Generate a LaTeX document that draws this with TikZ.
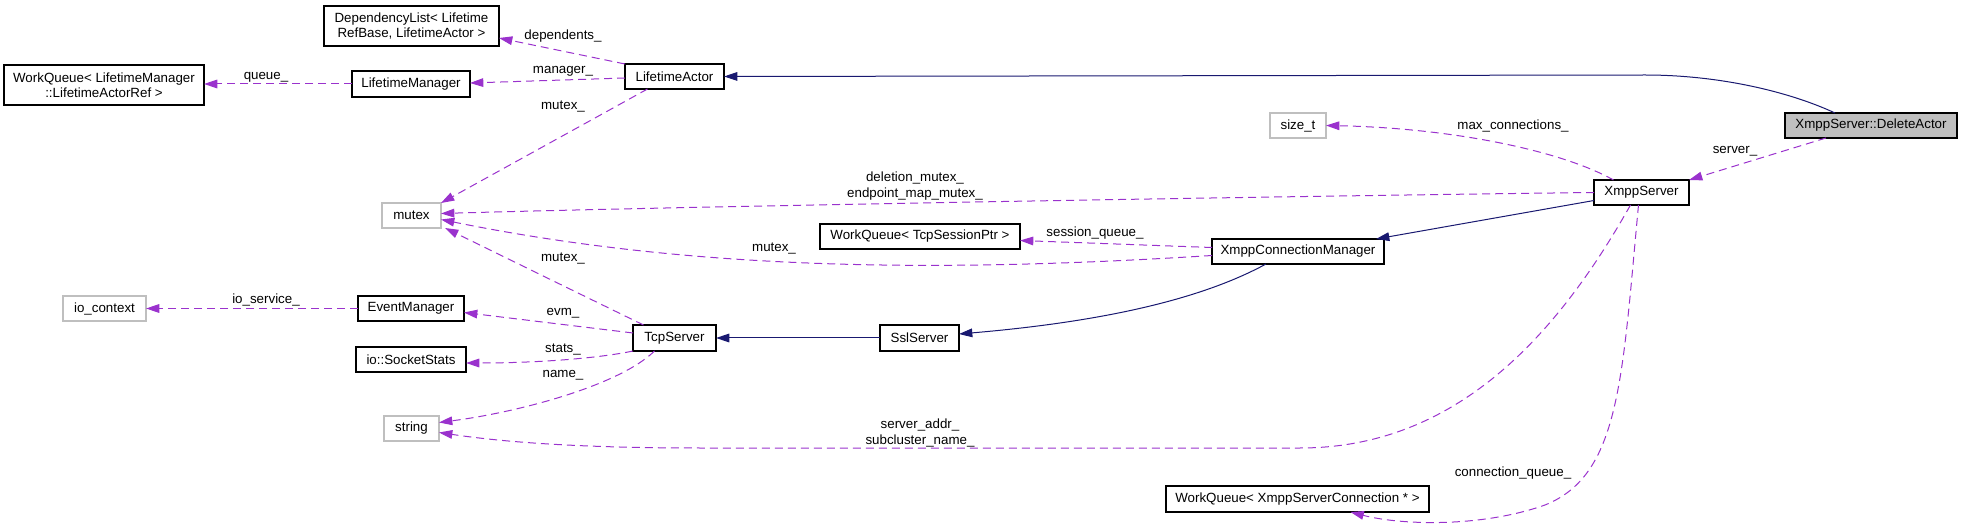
\documentclass[tikz,border=0pt]{standalone}
\usepackage{fontspec}
\setmainfont{Liberation Sans}
\usetikzlibrary{arrows.meta,calc}
\definecolor{memc}{HTML}{9A32CD}
\definecolor{inhc}{HTML}{191970}
\definecolor{extc}{HTML}{BFBFBF}
\begin{document}
\begin{tikzpicture}[x=0.75pt,y=-0.75pt,
  cls/.style={draw=black,line width=0.8pt,fill=white,inner sep=0pt,outer sep=0pt,align=center,
    font=\fontsize{10pt}{11.5pt}\selectfont},
  extcls/.style={cls,draw=extc},
  lbl/.style={inner sep=0pt,align=center,font=\fontsize{10pt}{11.5pt}\selectfont},
  memb/.style={draw=memc,line width=0.75pt,dash pattern=on 6pt off 3.75pt,
    -{Triangle[length=10pt,width=6.5pt]},color=memc},
  inh/.style={draw=inhc,line width=0.75pt,-{Triangle[length=10pt,width=6.5pt]},color=inhc}]
\useasboundingbox (0,0) rectangle (1961,527);
% nodes
\node[cls,minimum width=131.25pt,minimum height=30pt] (dl) at (411.5,26) {DependencyList< Lifetime\\RefBase, LifetimeActor >};
\node[cls,minimum width=150pt,minimum height=30pt] (wqlm) at (104,85) {WorkQueue< LifetimeManager\\::LifetimeActorRef >};
\node[cls,minimum width=88.5pt,minimum height=19.5pt] (lm) at (411,84) {LifetimeManager};
\node[cls,minimum width=74.25pt,minimum height=18.75pt] (la) at (674.5,76.5) {LifetimeActor};
\node[extcls,minimum width=42pt,minimum height=18.75pt] (sizet) at (1298,125.5) {size\_t};
\node[cls,fill=extc,minimum width=129pt,minimum height=18.75pt] (da) at (1871,125.5) {XmppServer::DeleteActor};
\node[cls,minimum width=71.25pt,minimum height=18.75pt] (xs) at (1641.5,192.5) {XmppServer};
\node[extcls,minimum width=44.25pt,minimum height=18.75pt] (mutex) at (411.5,215.5) {mutex};
\node[cls,minimum width=150pt,minimum height=18.75pt] (wqtcp) at (920,236.5) {WorkQueue< TcpSessionPtr >};
\node[cls,minimum width=129pt,minimum height=18.75pt] (xcm) at (1298,251.5) {XmppConnectionManager};
\node[extcls,minimum width=62.25pt,minimum height=18.75pt] (ioc) at (104.5,308.5) {io\_context};
\node[cls,minimum width=79.5pt,minimum height=18.75pt] (em) at (411,308.5) {EventManager};
\node[cls,minimum width=62.25pt,minimum height=19.5pt] (tcp) at (674.5,338) {TcpServer};
\node[cls,minimum width=59.25pt,minimum height=19.5pt] (ssl) at (919.5,338) {SslServer};
\node[cls,minimum width=82.5pt,minimum height=18.75pt] (sock) at (411,359.5) {io::SocketStats};
\node[extcls,minimum width=41.25pt,minimum height=18.75pt] (str) at (411.5,428.5) {string};
\node[cls,minimum width=197.25pt,minimum height=19.5pt] (wqxs) at (1297.5,499) {WorkQueue< XmppServerConnection * >};
% inheritance
\draw[inh] ($(da.north)+(-36,0)$) .. controls (1790,92) and (1720,75) .. (1645,75) -- (la.east);
\draw[inh] ($(xs.west)+(0,8)$) -- ($(xcm.north east)+(-8,0)$);
\draw[inh] ($(xcm.south)+(-32,0)$) .. controls (1200,300) and (1100,322) .. ($(ssl.east)+(0,-4)$);
\draw[inh] (ssl.west) -- (tcp.east);
% members
\draw[memb] (la.north west) -- ($(dl.east)+(0,12)$);
\draw[memb] ($(la.west)+(0,1.5)$) -- ($(lm.east)+(0,-1)$);
\draw[memb] (lm.west) -- ($(wqlm.east)+(0,-1)$);
\draw[memb] ($(la.south)+(-27,0)$) -- (mutex.north east);
\draw[memb] ($(da.south)+(-45,0)$) -- (xs.north east);
\draw[memb] ($(xs.north)+(-28,0)$) .. controls (1560,150) and (1450,128) .. (sizet.east);
\draw[memb] (xs.west) .. controls (1300,196) and (700,206) .. ($(mutex.east)+(0,-2)$);
\draw[memb] ($(xcm.west)+(0,-4)$) -- ($(wqtcp.east)+(0,4)$);
\draw[memb] ($(xcm.west)+(0,4)$) .. controls (950,272) and (700,272) .. ($(mutex.east)+(0,4)$);
\draw[memb] ($(tcp.north)+(-31,0)$) -- ($(mutex.south east)+(4,0)$);
\draw[memb] (em.west) -- (ioc.east);
\draw[memb] ($(tcp.west)+(0,-5)$) -- ($(em.east)+(0,4)$);
\draw[memb] (tcp.south west) .. controls (600,358) and (540,363) .. ($(sock.east)+(0,3.5)$);
\draw[memb] ($(tcp.south)+(-20,0)$) .. controls (620,385) and (520,412) .. ($(str.east)+(0,-6)$);
\draw[memb] ($(xs.south)+(-11,0)$) .. controls (1560,330) and (1460,448) .. (1300,448) -- (700,448) .. controls (560,448) and (490,440) .. ($(str.east)+(0,4)$);
\draw[memb] ($(xs.south)+(-3,0)$) .. controls (1622,380) and (1620,475) .. (1545,505) .. controls (1480,528) and (1400,525) .. ($(wqxs.south)+(53,0)$);
% labels
\node[lbl] (l1) at (563,36) {dependents\_};
\node[lbl] (l2) at (563,71) {manager\_};
\node[lbl] (l3) at (266,77) {queue\_};
\node[lbl] (l4) at (563,107) {mutex\_};
\node[lbl] (l5) at (1735,151) {server\_};
\node[lbl] (l6) at (1513,126) {max\_connections\_};
\node[lbl] (l7) at (915,186) {deletion\_mutex\_\\endpoint\_map\_mutex\_};
\node[lbl] (l8) at (1095,233) {session\_queue\_};
\node[lbl] (l9) at (774,249) {mutex\_};
\node[lbl] (l10) at (563,259) {mutex\_};
\node[lbl] (l11) at (266,300) {io\_service\_};
\node[lbl] (l12) at (563,313) {evm\_};
\node[lbl] (l13) at (563,350) {stats\_};
\node[lbl] (l14) at (563,375) {name\_};
\node[lbl] (l15) at (920,433) {server\_addr\_\\subcluster\_name\_};
\node[lbl] (l16) at (1513,473) {connection\_queue\_};
\end{tikzpicture}
\end{document}
